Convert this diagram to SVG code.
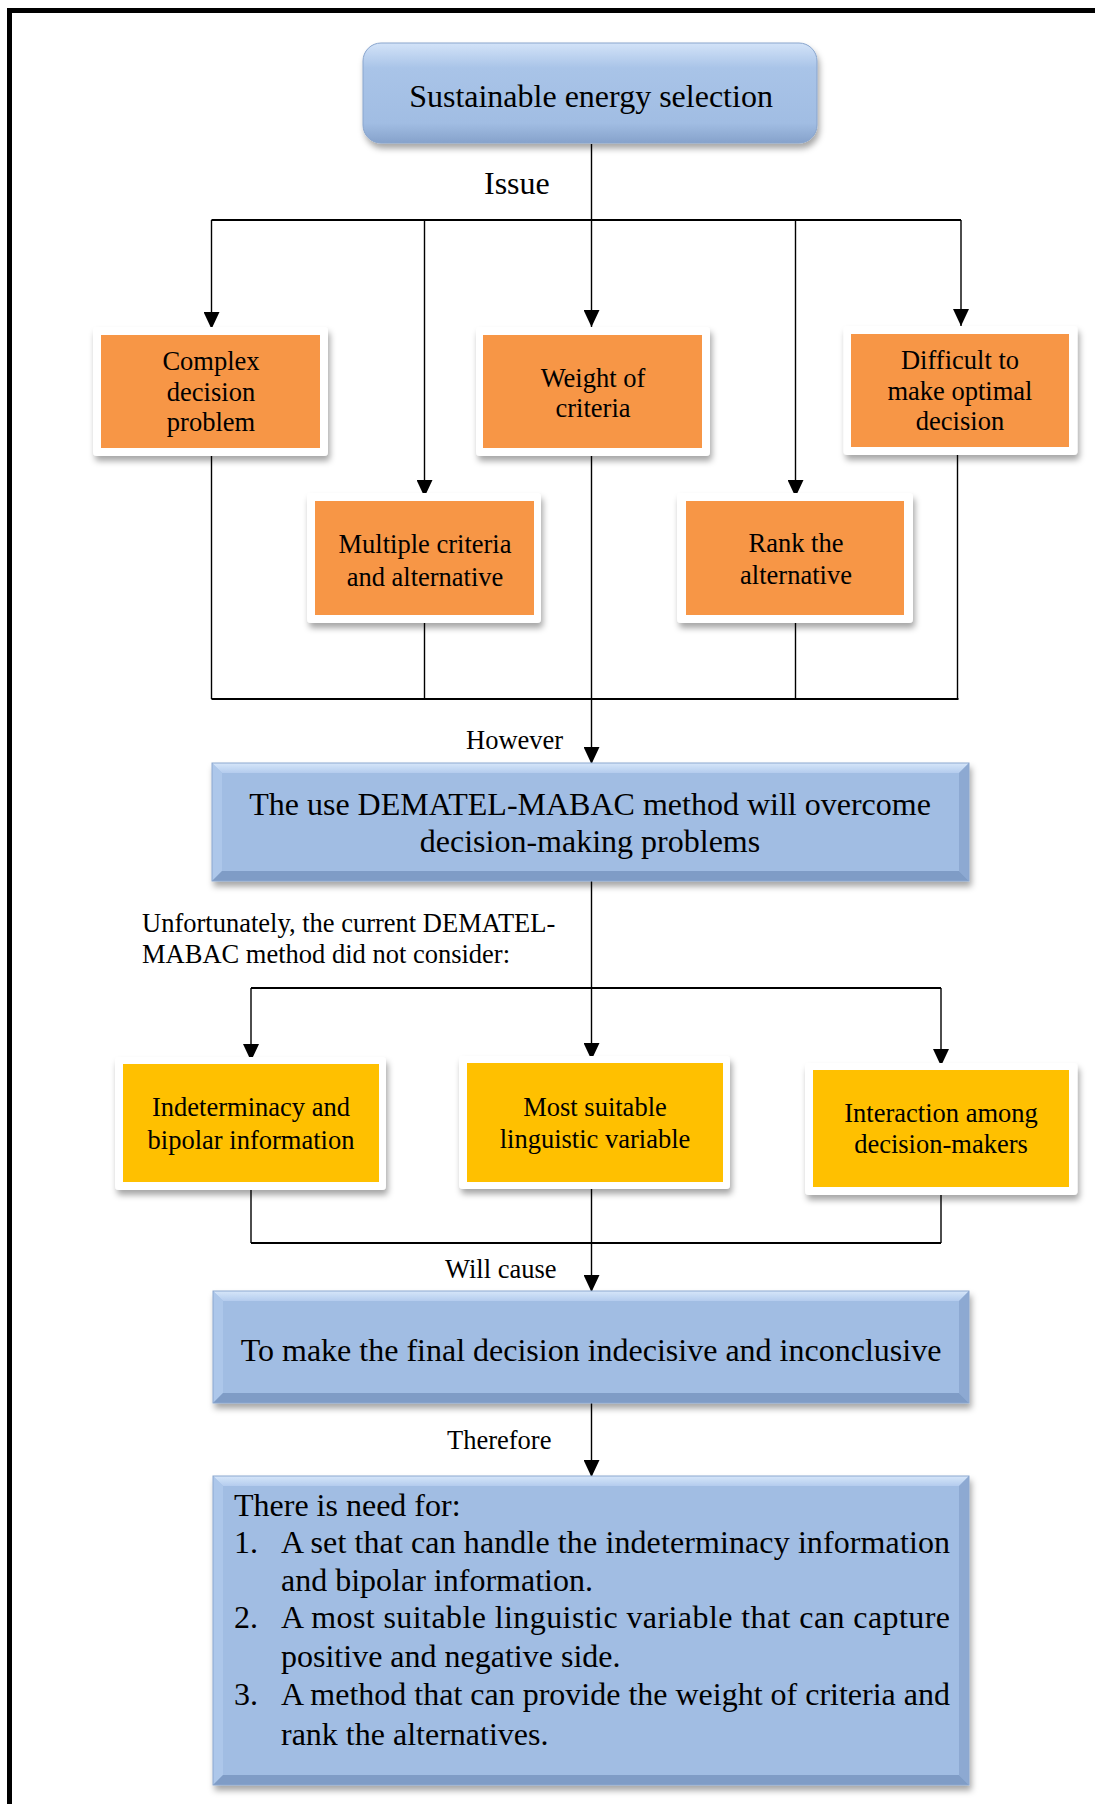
<svg xmlns="http://www.w3.org/2000/svg" width="1095" height="1804" viewBox="0 0 1095 1804">
  <defs>
    <filter id="shadow" x="-10%" y="-10%" width="125%" height="140%">
      <feDropShadow dx="2" dy="5" stdDeviation="3" flood-color="#000" flood-opacity="0.35"/>
    </filter>
    <linearGradient id="topGrad" x1="0" y1="0" x2="0" y2="1">
      <stop offset="0" stop-color="#D3E3F8"/>
      <stop offset="0.25" stop-color="#A9C4E8"/>
      <stop offset="0.8" stop-color="#A1BDE3"/>
      <stop offset="1" stop-color="#86A2CB"/>
    </linearGradient>
    <linearGradient id="bevelTop" x1="0" y1="0" x2="0" y2="1">
      <stop offset="0" stop-color="#D6E6F9"/>
      <stop offset="1" stop-color="#B4CCEE"/>
    </linearGradient>
    <marker id="arrow" markerUnits="userSpaceOnUse" markerWidth="17" markerHeight="16" refX="17" refY="8" orient="auto" viewBox="0 0 17 16">
      <path d="M0,0 L17,8 L0,16 z" fill="#000"/>
    </marker>
  </defs>
  <style>
    text { font-family: "Liberation Serif", "Times New Roman", serif; fill: #000; }
    .big { font-size: 32px; }
    .small { font-size: 26.5px; }
    .mid { text-anchor: middle; }
    .conn { fill: none; stroke: #000; stroke-width: 1.4; }
    .bar { fill: none; stroke: #000; stroke-width: 2; }
    .frame { fill: #fff; }
    .orange { fill: #F79646; }
    .yellow { fill: #FFC000; }
    .face { fill: #A1BDE3; }
    .bv-top { fill: url(#bevelTop); }
    .bv-left { fill: #ADC7EA; }
    .bv-right { fill: #8DA9D2; }
    .bv-bottom { fill: #7F9CC6; }
    .edge { fill: none; stroke: #8CA7CF; stroke-width: 1; }
  </style>

  <!-- outer page frame -->
  <path d="M9.5,1804 V10.5 H1095" fill="none" stroke="#000" stroke-width="5"/>

  <!-- connectors -->
  <g id="connectors">
    <line class="conn" x1="591.5" y1="144" x2="591.5" y2="327" marker-end="url(#arrow)"/>
    <line class="bar" x1="211.5" y1="220" x2="961" y2="220"/>
    <line class="conn" x1="211.5" y1="220" x2="211.5" y2="329" marker-end="url(#arrow)"/>
    <line class="conn" x1="424.5" y1="220" x2="424.5" y2="497" marker-end="url(#arrow)"/>
    <line class="conn" x1="795.5" y1="221" x2="795.5" y2="497" marker-end="url(#arrow)"/>
    <line class="conn" x1="961" y1="220" x2="961" y2="326" marker-end="url(#arrow)"/>

    <line class="conn" x1="211.5" y1="456" x2="211.5" y2="699"/>
    <line class="conn" x1="424.5" y1="623" x2="424.5" y2="699"/>
    <line class="conn" x1="795.5" y1="623" x2="795.5" y2="699"/>
    <line class="conn" x1="957.5" y1="455" x2="957.5" y2="699"/>
    <line class="bar" x1="211.5" y1="699" x2="958.5" y2="699"/>
    <line class="conn" x1="591.5" y1="456" x2="591.5" y2="764" marker-end="url(#arrow)"/>

    <line class="conn" x1="591.5" y1="881" x2="591.5" y2="1060" marker-end="url(#arrow)"/>
    <line class="bar" x1="251" y1="988" x2="941" y2="988"/>
    <line class="conn" x1="251" y1="988" x2="251" y2="1061" marker-end="url(#arrow)"/>
    <line class="conn" x1="941" y1="988" x2="941" y2="1066" marker-end="url(#arrow)"/>

    <line class="conn" x1="251" y1="1190" x2="251" y2="1243"/>
    <line class="conn" x1="941" y1="1195" x2="941" y2="1243"/>
    <line class="bar" x1="251" y1="1243" x2="941" y2="1243"/>
    <line class="conn" x1="591.5" y1="1189" x2="591.5" y2="1292" marker-end="url(#arrow)"/>

    <line class="conn" x1="591.5" y1="1403" x2="591.5" y2="1477" marker-end="url(#arrow)"/>
  </g>

  <!-- connector labels -->
  <g id="labels">
    <text class="big" x="484" y="194">Issue</text>
    <text class="small" x="466" y="749">However</text>
    <text class="small" x="142" y="932">Unfortunately, the current DEMATEL-</text>
    <text class="small" x="142" y="963">MABAC method did not consider:</text>
    <text class="small" x="445" y="1278">Will cause</text>
    <text class="small" x="447" y="1449">Therefore</text>
  </g>

  <!-- root node -->
  <g id="node-sustainable">
    <rect x="363" y="43" width="454" height="100" rx="18" fill="url(#topGrad)" stroke="#89A5CD" stroke-width="1" filter="url(#shadow)"/>
    <text class="big mid" x="591" y="107">Sustainable energy selection</text>
  </g>

  <!-- issue nodes -->
  <g id="node-complex">
    <rect class="frame" x="93" y="327" width="235" height="129" rx="4" filter="url(#shadow)"/>
    <rect class="orange" x="101" y="335" width="219" height="113"/>
    <text class="small mid" x="211" y="370">Complex</text>
    <text class="small mid" x="211" y="401">decision</text>
    <text class="small mid" x="211" y="431">problem</text>
  </g>
  <g id="node-weight">
    <rect class="frame" x="476" y="327" width="234" height="129" rx="4" filter="url(#shadow)"/>
    <rect class="orange" x="483" y="335" width="219" height="113"/>
    <text class="small mid" x="593" y="387">Weight of</text>
    <text class="small mid" x="593" y="417">criteria</text>
  </g>
  <g id="node-difficult">
    <rect class="frame" x="843.5" y="326" width="234" height="129" rx="4" filter="url(#shadow)"/>
    <rect class="orange" x="851" y="334" width="218" height="113"/>
    <text class="small mid" x="960" y="369">Difficult to</text>
    <text class="small mid" x="960" y="400">make optimal</text>
    <text class="small mid" x="960" y="430">decision</text>
  </g>
  <g id="node-multiple">
    <rect class="frame" x="307" y="493" width="234" height="130" rx="4" filter="url(#shadow)"/>
    <rect class="orange" x="315" y="501" width="219" height="114"/>
    <text class="small mid" x="425" y="553">Multiple criteria</text>
    <text class="small mid" x="425" y="586">and alternative</text>
  </g>
  <g id="node-rank">
    <rect class="frame" x="677" y="493" width="236" height="130" rx="4" filter="url(#shadow)"/>
    <rect class="orange" x="686" y="501" width="218" height="114"/>
    <text class="small mid" x="796" y="552">Rank the</text>
    <text class="small mid" x="796" y="584">alternative</text>
  </g>

  <!-- method node -->
  <g id="node-dematel">
    <g filter="url(#shadow)">
      <rect class="face" x="212" y="763" width="757" height="118"/>
      <polygon class="bv-top" points="212,763 969,763 959,773 222,773"/>
      <polygon class="bv-left" points="212,763 222,773 222,871 212,881"/>
      <polygon class="bv-right" points="969,763 969,881 959,871 959,773"/>
      <polygon class="bv-bottom" points="212,881 222,871 959,871 969,881"/>
      <rect class="edge" x="212" y="763" width="757" height="118"/>
    </g>
    <text class="big mid" x="590" y="815">The use DEMATEL-MABAC method will overcome</text>
    <text class="big mid" x="590" y="852">decision-making problems</text>
  </g>

  <!-- gap nodes -->
  <g id="node-indeterminacy">
    <rect class="frame" x="115" y="1057" width="271" height="133" rx="4" filter="url(#shadow)"/>
    <rect class="yellow" x="123" y="1064" width="256" height="118"/>
    <text class="small mid" x="251" y="1116">Indeterminacy and</text>
    <text class="small mid" x="251" y="1149">bipolar information</text>
  </g>
  <g id="node-linguistic">
    <rect class="frame" x="459" y="1056" width="271" height="133" rx="4" filter="url(#shadow)"/>
    <rect class="yellow" x="467" y="1063" width="256" height="119"/>
    <text class="small mid" x="595" y="1116">Most suitable</text>
    <text class="small mid" x="595" y="1148">linguistic variable</text>
  </g>
  <g id="node-interaction">
    <rect class="frame" x="805" y="1063" width="272.5" height="132" rx="4" filter="url(#shadow)"/>
    <rect class="yellow" x="813" y="1070" width="256" height="117"/>
    <text class="small mid" x="941" y="1122">Interaction among</text>
    <text class="small mid" x="941" y="1153">decision-makers</text>
  </g>

  <!-- consequence node -->
  <g id="node-consequence">
    <g filter="url(#shadow)">
      <rect class="face" x="213" y="1291" width="756" height="112"/>
      <polygon class="bv-top" points="213,1291 969,1291 959,1301 223,1301"/>
      <polygon class="bv-left" points="213,1291 223,1301 223,1393 213,1403"/>
      <polygon class="bv-right" points="969,1291 969,1403 959,1393 959,1301"/>
      <polygon class="bv-bottom" points="213,1403 223,1393 959,1393 969,1403"/>
      <rect class="edge" x="213" y="1291" width="756" height="112"/>
    </g>
    <text class="big mid" x="591" y="1361">To make the final decision indecisive and inconclusive</text>
  </g>

  <!-- requirements node -->
  <g id="node-need">
    <g filter="url(#shadow)">
      <rect class="face" x="213" y="1476" width="756" height="309"/>
      <polygon class="bv-top" points="213,1476 969,1476 959,1486 223,1486"/>
      <polygon class="bv-left" points="213,1476 223,1486 223,1775 213,1785"/>
      <polygon class="bv-right" points="969,1476 969,1785 959,1775 959,1486"/>
      <polygon class="bv-bottom" points="213,1785 223,1775 959,1775 969,1785"/>
      <rect class="edge" x="213" y="1476" width="756" height="309"/>
    </g>
    <text class="big" x="234" y="1516">There is need for:</text>
    <text class="big" x="234" y="1553">1.</text>
    <text class="big" x="281" y="1553" textLength="669" lengthAdjust="spacing">A set that can handle the indeterminacy information</text>
    <text class="big" x="281" y="1591">and bipolar information.</text>
    <text class="big" x="234" y="1628">2.</text>
    <text class="big" x="281" y="1628" textLength="669" lengthAdjust="spacing">A most suitable linguistic variable that can capture</text>
    <text class="big" x="281" y="1667">positive and negative side.</text>
    <text class="big" x="234" y="1705">3.</text>
    <text class="big" x="281" y="1705" textLength="669" lengthAdjust="spacing">A method that can provide the weight of criteria and</text>
    <text class="big" x="281" y="1745">rank the alternatives.</text>
  </g>
</svg>
